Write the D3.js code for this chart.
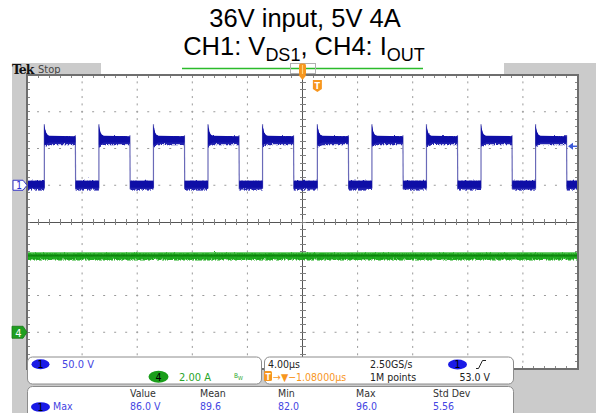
<!DOCTYPE html>
<html>
<head>
<meta charset="utf-8">
<script src="https://cdn.jsdelivr.net/npm/d3@7/dist/d3.min.js"></script>
<style>
  html, body { margin: 0; padding: 0; background: #fff; }
  svg { display: block; }
</style>
</head>
<body>
<svg id="chart" width="596" height="413"></svg>
<script>
// ---------------- data ----------------
const titleLine1 = "36V input, 5V 4A";
const titleLine2 = [["CH1: V", false], ["DS1", true], [", CH4: I", false], ["OUT", true]];

// horizontal: 4.00 µs/div, 10 divisions, times relative to the trigger
const usPerDiv = 4;
const trigPosUs = -1.08;           // screen centre relative to trigger
const sampleRate = "2.50GS/s";
const recordLength = "1M points";

// channel 1 (V_DS1): 50 V/div, ground one division above centre
const ch1VoltsPerDiv = 50;
const ch1OffsetDiv = 1;
const ch1RiseUs = [-19.82, -15.86, -11.90, -7.94, -3.98, 0.00, 3.96, 7.92, 11.88, 15.84];
const ch1FallUs = [-17.57, -13.61, -9.65, -5.69, -1.73, 2.25, 6.21, 10.17, 14.13, 18.09];
const ch1LowBandV = [-4.5, 7.5];
const ch1HighBandV = [57, 68];
// ringing envelope just after each rising edge
const ch1RingOffsetUs = [0.00, 0.05, 0.12, 0.22, 0.36];
const ch1RingMinV = [54, 54, 55, 56, 57];
const ch1RingMaxV = [83, 78, 73, 70, 68.5];

// channel 4 (I_OUT): 2.00 A/div, ground three divisions below centre
const ch4AmpsPerDiv = 2;
const ch4OffsetDiv = -3;
const ch4MeanA = 4.18;
const ch4BandA = [4.02, 4.36];

// trigger: channel 1 rising edge
const triggerLevelV = 53;

// measurement table
const measHeaders = ["Value", "Mean", "Min", "Max", "Std Dev"];
const measValues = ["86.0 V", "89.6", "82.0", "96.0", "5.56"];
const measName = "Max";

// ---------------- layout ----------------
const plot = { left: 27, right: 578, top: 75, bottom: 369 };
const C = {
  gray: "#cbcbcb", border: "#6e6e6e", grid: "#9a9a9a",
  blue: "#0e0ea6", blueEdge: "#6a6ab8", blueText: "#4545e2",
  green: "#23b023", greenDark: "#0d7f0d", greenText: "#2aa52a",
  orange: "#f7961e"
};
const scopeFont = '"DejaVu Sans Condensed", "DejaVu Sans", sans-serif';

const svg = d3.select("#chart");

// scales
const x = d3.scaleLinear()
  .domain([trigPosUs - 5 * usPerDiv, trigPosUs + 5 * usPerDiv])
  .range([plot.left, plot.right]);
const divX = d3.scaleLinear().domain([-5, 5]).range([plot.left, plot.right]);
const divY = d3.scaleLinear().domain([-4, 4]).range([plot.bottom, plot.top]);
const y1 = d3.scaleLinear()
  .domain([(-4 - ch1OffsetDiv) * ch1VoltsPerDiv, (4 - ch1OffsetDiv) * ch1VoltsPerDiv])
  .range([plot.bottom, plot.top]);
const y4 = d3.scaleLinear()
  .domain([(-4 - ch4OffsetDiv) * ch4AmpsPerDiv, (4 - ch4OffsetDiv) * ch4AmpsPerDiv])
  .range([plot.bottom, plot.top]);

// ---------------- title ----------------
const titleFont = '"Liberation Sans", Arial, sans-serif';
svg.append("text")
  .attr("x", 305).attr("y", 27)
  .attr("text-anchor", "middle")
  .style("font-family", titleFont).style("font-size", "25.5px").attr("fill", "#000")
  .text(titleLine1);

const t2 = svg.append("text")
  .attr("x", 304).attr("y", 55)
  .attr("text-anchor", "middle")
  .style("font-family", titleFont).style("font-size", "25.5px").attr("fill", "#000");
let wasSub = false;
titleLine2.forEach(([s, sub]) => {
  const ts = t2.append("tspan").text(s);
  if (sub && !wasSub) ts.attr("dy", 6).style("font-size", "18px");
  if (!sub && wasSub) ts.attr("dy", -6);
  wasSub = sub;
});

// ---------------- scope frame ----------------
svg.append("rect").attr("x", 12).attr("y", 63).attr("width", 584).attr("height", 350).attr("fill", C.gray);

// status bar
svg.append("text").attr("x", 12).attr("y", 74)
  .style("font-family", '"DejaVu Serif", serif').style("font-weight", "bold")
  .style("font-size", "12.5px").style("letter-spacing", "-1px").attr("fill", "#111").text("Tek");
svg.append("text").attr("x", 38).attr("y", 73)
  .style("font-family", scopeFont).style("font-size", "11px").attr("fill", "#444").text("Stop");

// record view bar
svg.append("rect").attr("x", 101).attr("y", 63).attr("width", 403).attr("height", 11).attr("fill", "#fff");
svg.append("line").attr("x1", 182).attr("x2", 423).attr("y1", 68.5).attr("y2", 68.5)
  .attr("stroke", "#2bbb2b").attr("stroke-width", 1.3);
svg.append("rect").attr("x", 290.5).attr("y", 63.5).attr("width", 25).attr("height", 10)
  .attr("fill", "none").attr("stroke", "#b0b0b0").attr("stroke-width", 1);

// plot area
svg.append("rect")
  .attr("x", plot.left).attr("y", plot.top)
  .attr("width", plot.right - plot.left).attr("height", plot.bottom - plot.top)
  .attr("fill", "#fff");

const minorX = d3.range(-25, 26).map(i => i / 5);
const minorY = d3.range(-20, 21).map(i => i / 5);
const grid = svg.append("g").attr("fill", C.grid);

// dotted major verticals
d3.range(-4, 5).filter(d => d !== 0).forEach(mx => {
  grid.selectAll(null).data(minorY.slice(1, -1)).join("rect")
    .attr("x", divX(mx) - 0.5).attr("y", d => divY(d) - 1)
    .attr("width", 1).attr("height", 2);
});
// dotted major horizontals
d3.range(-3, 4).filter(d => d !== 0).forEach(my => {
  grid.selectAll(null).data(minorX.slice(1, -1)).join("rect")
    .attr("x", d => divX(d) - 1).attr("y", divY(my) - 0.5)
    .attr("width", 2).attr("height", 1);
});

// centre cross with ticks
const cross = svg.append("g").attr("stroke", "#555").attr("stroke-width", 1).attr("shape-rendering", "crispEdges");
cross.append("line").attr("x1", plot.left).attr("x2", plot.right).attr("y1", divY(0)).attr("y2", divY(0));
cross.append("line").attr("y1", plot.top).attr("y2", plot.bottom).attr("x1", divX(0)).attr("x2", divX(0));
cross.selectAll(null).data(minorX).join("line")
  .attr("x1", d => divX(d)).attr("x2", d => divX(d))
  .attr("y1", divY(0) - 3).attr("y2", divY(0) + 3).attr("stroke", "#808080");
cross.selectAll(null).data(minorY).join("line")
  .attr("y1", d => divY(d)).attr("y2", d => divY(d))
  .attr("x1", divX(0) - 3).attr("x2", divX(0) + 3).attr("stroke", "#808080");

// border ticks
const bt = svg.append("g").attr("stroke", "#8a8a8a").attr("stroke-width", 1).attr("shape-rendering", "crispEdges");
bt.selectAll(null).data(minorX).join("line")
  .attr("x1", d => divX(d)).attr("x2", d => divX(d)).attr("y1", plot.top).attr("y2", plot.top + 3);
bt.selectAll(null).data(minorX).join("line")
  .attr("x1", d => divX(d)).attr("x2", d => divX(d)).attr("y1", plot.bottom - 3).attr("y2", plot.bottom);
bt.selectAll(null).data(minorY).join("line")
  .attr("y1", d => divY(d)).attr("y2", d => divY(d)).attr("x1", plot.left).attr("x2", plot.left + 3);
bt.selectAll(null).data(minorY).join("line")
  .attr("y1", d => divY(d)).attr("y2", d => divY(d)).attr("x1", plot.right - 3).attr("x2", plot.right);

// ---------------- traces ----------------
const defs = svg.append("defs");
defs.append("clipPath").attr("id", "plotClip").append("rect")
  .attr("x", plot.left).attr("y", plot.top)
  .attr("width", plot.right - plot.left).attr("height", plot.bottom - plot.top);

// acquisition noise: vertical-only jitter on the trace band edges
const rough = defs.append("filter").attr("id", "rough")
  .attr("x", "-2%").attr("y", "-40%").attr("width", "104%").attr("height", "180%");
rough.append("feTurbulence").attr("type", "turbulence")
  .attr("baseFrequency", "0.9 0.25").attr("numOctaves", 1).attr("seed", 4).attr("result", "n");
rough.append("feColorMatrix").attr("in", "n").attr("type", "matrix")
  .attr("values", "1 0 0 0 0  0 0 0 0 0.5  0 0 0 0 0  0 0 0 0 1").attr("result", "m");
rough.append("feDisplacementMap").attr("in", "SourceGraphic").attr("in2", "m")
  .attr("scale", 4).attr("xChannelSelector", "G").attr("yChannelSelector", "R");

const traces = svg.append("g").attr("clip-path", "url(#plotClip)");

const band = (ys) => d3.area().x(d => x(d.t)).y0(d => ys(d.lo)).y1(d => ys(d.hi));
const edge = (ys) => d3.line().x(d => x(d.t)).y(d => ys(d.v));

// channel 4: solid core plus jittered copy for the noisy outline
const ch4Pts = x.domain().map(t => ({ t, lo: ch4BandA[0], hi: ch4BandA[1] }));
const ch4Mid = x.domain().map(t => ({ t, v: ch4MeanA }));
const drawCh4 = (g) => {
  g.append("path").attr("d", band(y4)(ch4Pts)).attr("fill", C.green);
  g.append("path").attr("d", edge(y4)(ch4Mid))
    .attr("stroke", C.greenDark).attr("stroke-width", 2).attr("fill", "none");
};
drawCh4(traces.append("g").attr("filter", "url(#rough)"));
drawCh4(traces.append("g").attr("transform", "translate(0,0)").attr("opacity", 0.85));

// channel 1: transitions
const edges1 = [];
ch1RiseUs.forEach((r, i) => {
  edges1.push([{ t: r, v: ch1LowBandV[0] }, { t: r, v: ch1RingMaxV[0] }]);
  edges1.push([{ t: ch1FallUs[i], v: ch1HighBandV[1] }, { t: ch1FallUs[i] + 0.02, v: ch1LowBandV[0] - 1 }]);
});
traces.append("g").selectAll("path").data(edges1).join("path")
  .attr("d", edge(y1)).attr("stroke", C.blueEdge).attr("stroke-width", 1.2).attr("fill", "none");

// channel 1: low-level segments
const lowSegs = [];
let prevT = x.domain()[0];
ch1RiseUs.forEach((r, i) => { lowSegs.push([prevT, r]); prevT = ch1FallUs[i] + 0.02; });
lowSegs.push([prevT, x.domain()[1]]);
const lowPts = lowSegs.map(([a, b]) => [a, b].map(t => ({ t, lo: ch1LowBandV[0], hi: ch1LowBandV[1] })));

// channel 1: high-level segments with ringing
const highPts = ch1RiseUs.map((r, i) => {
  const pts = ch1RingOffsetUs.map((o, k) => ({ t: r + o, lo: ch1RingMinV[k], hi: ch1RingMaxV[k] }));
  pts.push({ t: ch1FallUs[i], lo: ch1HighBandV[0], hi: ch1HighBandV[1] });
  return pts;
});

const ch1Bands = lowPts.concat(highPts);
traces.append("g").attr("filter", "url(#rough)")
  .selectAll("path").data(ch1Bands).join("path")
  .attr("d", band(y1)).attr("fill", "#2222b0");
// solid core, slightly inset
const inset = (pts) => pts.map(d => ({ t: d.t, lo: d.lo + 1.2, hi: d.hi - 1.2 }));
traces.append("g")
  .selectAll("path").data(ch1Bands.map(inset)).join("path")
  .attr("d", band(y1)).attr("fill", C.blue);

// plot border
svg.append("rect")
  .attr("x", plot.left).attr("y", plot.top)
  .attr("width", plot.right - plot.left).attr("height", plot.bottom - plot.top)
  .attr("fill", "none").attr("stroke", C.border).attr("stroke-width", 2);

// ---------------- markers ----------------
// channel 1 ground marker
const g1 = y1(0);
svg.append("path")
  .attr("d", `M13,${g1 - 5}H23L27,${g1}L23,${g1 + 5}H13Z`)
  .attr("fill", "#fff").attr("stroke", "#3434c4").attr("stroke-width", 1);
svg.append("text").attr("x", 19).attr("y", g1 + 4).attr("text-anchor", "middle")
  .style("font-family", scopeFont).style("font-size", "10px").attr("fill", "#2a2ad0").text("1");

// channel 4 ground marker
const g4 = y4(0);
svg.append("path")
  .attr("d", `M12,${g4 - 6}H23L27,${g4}L23,${g4 + 6}H12Z`)
  .attr("fill", "#1f9e1f").attr("stroke", "#147814").attr("stroke-width", 0.8);
svg.append("text").attr("x", 18.5).attr("y", g4 + 4.5).attr("text-anchor", "middle")
  .style("font-family", scopeFont).style("font-size", "11px").attr("fill", "#fff").text("4");

// trigger level arrow
const ty = y1(triggerLevelV);
svg.append("path").attr("d", `M568,${ty}L573,${ty - 3.5}L573,${ty + 3.5}Z`).attr("fill", "#3c5ad8");
svg.append("line").attr("x1", 572).attr("x2", 577).attr("y1", ty).attr("y2", ty)
  .attr("stroke", "#3c5ad8").attr("stroke-width", 1.5);

// expansion point marker (screen centre)
const cx = x(trigPosUs);
svg.append("rect").attr("x", cx - 3.5).attr("y", 63.5).attr("width", 7).attr("height", 12).attr("rx", 2)
  .attr("fill", C.orange);
svg.append("line").attr("x1", cx).attr("x2", cx).attr("y1", 65).attr("y2", 74)
  .attr("stroke", "#ffd27a").attr("stroke-width", 1.2);
svg.append("path").attr("d", `M${cx - 4},75L${cx + 4},75L${cx},80Z`).attr("fill", C.orange);

// trigger position marker
const tx = x(0);
svg.append("path")
  .attr("d", `M${tx - 4.5},80H${tx + 4.5}V89L${tx},92L${tx - 4.5},89Z`)
  .attr("fill", C.orange);
svg.append("text").attr("x", tx).attr("y", 89).attr("text-anchor", "middle")
  .style("font-family", scopeFont).style("font-weight", "bold").style("font-size", "9px")
  .attr("fill", "#fff").text("T");

// ---------------- readout panels ----------------
const panel = (x0, y0, w, h) => svg.append("rect")
  .attr("x", x0 + 0.5).attr("y", y0 + 0.5).attr("width", w).attr("height", h).attr("rx", 5)
  .attr("fill", "#fff").attr("stroke", "#8c8c8c").attr("stroke-width", 1);
panel(27, 356.5, 234, 27);
panel(264, 356.5, 249, 27);
panel(27, 386, 486, 34);

const txt = (xp, yp, s, fill, anchor = "start", size = 10.5) => svg.append("text")
  .attr("x", xp).attr("y", yp).attr("text-anchor", anchor)
  .style("font-family", scopeFont).style("font-size", size + "px").attr("fill", fill).text(s);
const chip = (cxp, cyp, rx, ry, fill, label) => {
  svg.append("ellipse").attr("cx", cxp).attr("cy", cyp).attr("rx", rx).attr("ry", ry).attr("fill", fill);
  txt(cxp, cyp + 3.8, label, "#000", "middle", 10.5);
};

// vertical settings
chip(40.5, 364.3, 9, 5, "#1a1ae6", "1");
txt(62, 367.5, ch1VoltsPerDiv.toFixed(1) + " V", C.blueText, "start", 11);
chip(158.5, 376.7, 10, 6, "#1a9e1a", "4");
txt(179, 380.5, ch4AmpsPerDiv.toFixed(2) + " A", C.greenText, "start", 11);
txt(234, 377.5, "B", C.greenText, "start", 6.5);
txt(238, 380, "W", C.greenText, "start", 5.5);

// horizontal / trigger settings
txt(268, 367.5, usPerDiv.toFixed(2) + "µs", "#222");
txt(370, 367.5, sampleRate, "#222");
chip(457.5, 364.5, 9.5, 5, "#1a1ae6", "1");
svg.append("path").attr("d", "M476,368.5H478.5L482.5,360.5H486")
  .attr("fill", "none").attr("stroke", "#222").attr("stroke-width", 1);
svg.append("rect").attr("x", 264).attr("y", 371).attr("width", 8).attr("height", 10).attr("rx", 1.5).attr("fill", C.orange);
txt(268, 379.5, "T", "#fff", "middle", 8.5).style("font-weight", "bold");
txt(273, 380.5, "→▼" + "−" + Math.abs(trigPosUs).toFixed(5) + "µs", C.orange);
txt(370, 380.5, recordLength, "#222");
txt(490, 380.5, triggerLevelV.toFixed(1) + " V", "#222", "end");

// measurements
const measX = [130, 200, 278, 356, 433];
measHeaders.forEach((h, i) => txt(measX[i], 397, h, "#333"));
chip(40.5, 407, 9.5, 4.8, "#1a1ae6", "1");
txt(53, 410, measName, C.blueText);
measValues.forEach((v, i) => txt(measX[i], 410, v, C.blueText));
</script>
</body>
</html>
